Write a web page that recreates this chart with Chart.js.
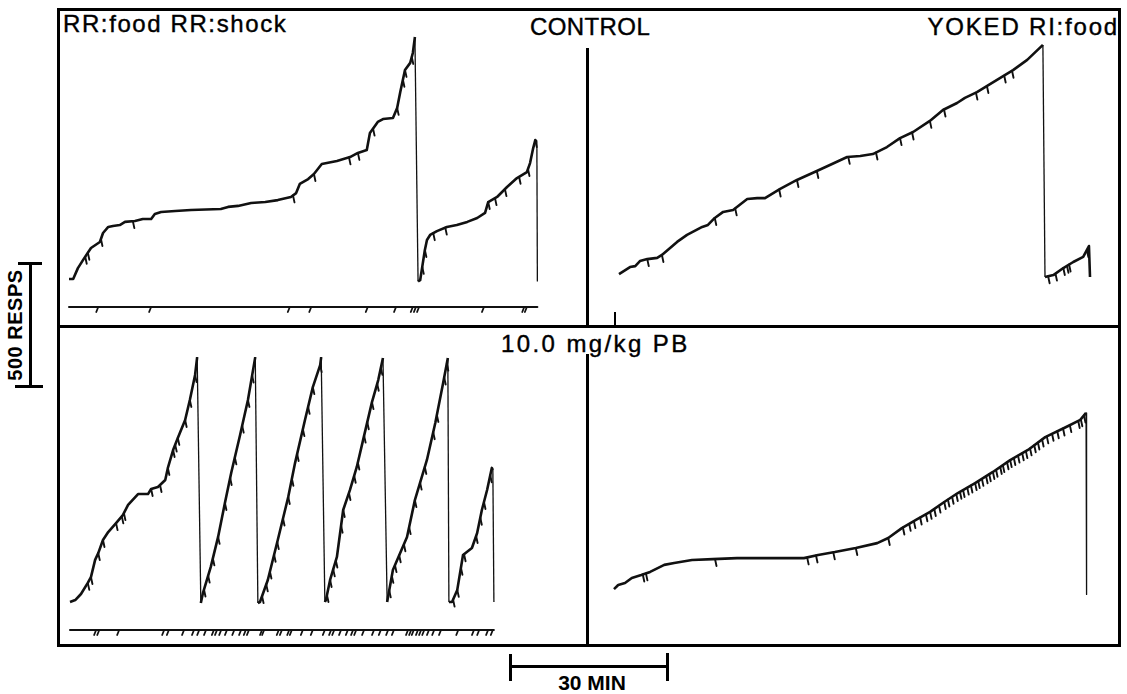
<!DOCTYPE html>
<html>
<head>
<meta charset="utf-8">
<script src="https://cdn.jsdelivr.net/npm/chart.js@4.4.1/dist/chart.umd.min.js"></script>
<style>
  body { margin: 0; background: #fff; }
  #fig { position: relative; width: 1127px; height: 694px; overflow: hidden; background: #fff;
         font-family: "Liberation Sans", Arial, sans-serif; color: #000; }
  .ln { position: absolute; background: #000; }
  .lbl { position: absolute; font-size: 24px; line-height: 24px; white-space: nowrap;
         -webkit-text-stroke: 0.4px #000; }
  .bold { font-weight: bold; -webkit-text-stroke: 0; }
  canvas { position: absolute; }
</style>
</head>
<body>
<div id="fig">
  <!-- marco -->
  <div class="ln" style="left:57px;top:8px;width:1064px;height:3px"></div>
  <div class="ln" style="left:57px;top:644px;width:1064px;height:3px"></div>
  <div class="ln" style="left:57px;top:8px;width:3px;height:639px"></div>
  <div class="ln" style="left:1118px;top:8px;width:3px;height:639px"></div>
  <div class="ln" style="left:57px;top:325px;width:1064px;height:3px"></div>
  <div class="ln" style="left:586px;top:48px;width:3px;height:278px"></div>
  <div class="ln" style="left:586px;top:354px;width:3px;height:292px"></div>
  <div class="ln" style="left:614px;top:312px;width:1.5px;height:14px"></div>

  <!-- barra 500 respuestas -->
  <div class="ln" style="left:29px;top:263px;width:3px;height:124px"></div>
  <div class="ln" style="left:18px;top:262px;width:24px;height:2.5px"></div>
  <div class="ln" style="left:15px;top:385px;width:28px;height:2.5px"></div>
  <div class="lbl bold" style="left:-42px;top:315px;width:114px;height:20px;font-size:20px;line-height:20px;text-align:center;letter-spacing:0.5px;transform:rotate(-90deg)">500 RESPS</div>

  <!-- barra 30 minutos -->
  <div class="ln" style="left:510px;top:665px;width:157px;height:3px"></div>
  <div class="ln" style="left:509px;top:654px;width:3px;height:27px"></div>
  <div class="ln" style="left:666px;top:653px;width:3px;height:28px"></div>
  <div class="lbl bold" style="left:492px;top:672px;width:200px;text-align:center;font-size:21px;line-height:21px">30 MIN</div>

  <!-- rótulos -->
  <div class="lbl" style="left:63px;top:12px;letter-spacing:1.6px">RR:food RR:shock</div>
  <div class="lbl" style="left:530px;top:15px;letter-spacing:0.4px">CONTROL</div>
  <div class="lbl" style="right:8px;top:15px;letter-spacing:1.8px">YOKED RI:food</div>
  <div class="lbl" style="left:501px;top:332px;letter-spacing:2.4px">10.0 mg/kg PB</div>

  <canvas id="rr-control" width="530" height="318" style="left:58px;top:10px"></canvas>
  <canvas id="yoked-control" width="530" height="318" style="left:588px;top:10px"></canvas>
  <canvas id="rr-drug" width="530" height="318" style="left:58px;top:328px"></canvas>
  <canvas id="yoked-drug" width="530" height="318" style="left:588px;top:328px"></canvas>
</div>

<script>
// Registros acumulados: minutos desde el inicio y respuestas acumuladas (la pluma se reinicia)

// Control, RR:food RR:shock
const rrControlTime = [0, 0.8, 1.7, 2.7, 4.2, 5.9, 6.5, 7.5, 8.4, 9.7, 10.7, 12.6, 14.1, 15.7, 16.4,
  17.6, 20.3, 23.3, 29.0, 30.4, 32.3, 34.8, 37.5, 39.9, 42.4, 43.4, 44.1, 45.7, 46.8, 48.3,
  51.2, 53.7, 55.2, 56.9, 57.5, 59.0, 60.0, 61.9, 62.7, 63.3, 64.2, 65.2, 65.7, 66.1, 66.7,
  67.1, 67.5, 68.0, 68.4, 69.0, 70.3, 72.2, 74.1, 76.1, 78.0, 79.5, 80.1, 81.8, 83.7, 85.6,
  87.5, 88.1, 88.7, 89.1, 89.4, 89.5];
const rrControlResp = [0, 0, 45, 79, 128, 153, 190, 215, 219, 223, 236, 240, 248, 248, 269,
  277, 281, 285, 289, 298, 302, 314, 318, 326, 339, 355, 393, 413, 434, 475,
  488, 504, 521, 533, 603, 649, 661, 665, 707, 773, 864, 893, 934, 1000, -10,
  -5, 50, 120, 161, 182, 198, 215, 223, 236, 252, 273, 318, 339, 380, 417,
  442, 479, 541, 574, 566, -10];
const rrControlPips = [3.1, 3.6, 6.1, 12.2, 42.8, 46.8, 53.5, 55.2, 58.1, 62.7, 63.8, 64.2, 65.5,
  67.5, 68.0, 69.6, 71.9, 80.1, 81.4, 83.3, 86.0, 87.7, 89.1];
const rrControlShocks = [5.4, 15.5, 42.0, 46.1, 56.9, 62.3, 65.5, 66.1, 66.7, 79.1, 86.8, 87.3];

// Control, YOKED RI:food
const yokedControlTime = [0, 2.1, 3.1, 4.0, 5.4, 7.3, 8.2, 11.1, 13.0, 15.9, 17.0, 18.3, 19.9, 21.8,
  24.5, 26.4, 27.9, 30.8, 34.0, 37.8, 40.3, 43.6, 46.1, 48.5, 51.2, 53.7, 56.2, 59.4, 61.9,
  64.6, 66.1, 68.4, 70.9, 73.8, 75.3, 78.0, 81.0, 81.4, 83.0, 84.9, 86.8, 88.7, 89.8, 90.0];
const yokedControlResp = [12, 41, 45, 66, 74, 79, 91, 145, 174, 207, 215, 244, 269, 277,
  322, 326, 326, 364, 401, 438, 463, 496, 500, 508, 537, 574, 599, 645, 690,
  719, 740, 764, 797, 835, 855, 897, 959, 0, 8, 37, 62, 83, 128, 0];
const yokedControlPips = [5.4, 8.2, 18.3, 22.2, 30.6, 34.0, 37.8, 43.8, 49.1, 53.7, 56.0, 59.4,
  62.1, 68.2, 70.3, 73.6, 75.1, 82.0, 83.4, 84.9, 85.6, 86.0, 89.4];

// 10.0 mg/kg PB, RR:food RR:shock
const rrDrugTime = [0, 1.0, 2.1, 3.4, 4.0, 4.8, 5.4, 6.3, 7.3, 8.8, 10.1, 11.1, 13.0, 14.9, 15.5,
  16.8, 18.2, 18.7, 19.7, 20.6, 22.0, 22.9, 23.9, 24.3, 25.0, 25.4, 26.9, 28.3, 29.6, 30.8,
  32.5, 34.0, 35.4, 35.9, 36.3, 37.8, 39.7, 41.7, 43.0, 44.9, 46.4, 47.8, 48.0, 48.7, 48.9,
  49.7, 51.0, 52.2, 53.5, 54.8, 56.0, 57.7, 58.9, 59.8, 60.6, 61.7, 64.4, 65.9, 68.2, 69.8,
  71.3, 72.2, 72.4, 73.0, 74.0, 75.1, 76.8, 77.8, 78.7, 79.7, 80.6, 80.8, 81.0];
const rrDrugResp = [0, 8, 33, 79, 103, 174, 202, 256, 289, 326, 359, 401, 446, 446, 467,
  475, 504, 554, 628, 678, 752, 835, 938, 1012, -4, 37, 145, 269, 409, 533,
  690, 835, 1012, -4, 0, 91, 256, 434, 574, 752, 888, 979, 1012, 0, 8,
  91, 186, 380, 463, 558, 669, 826, 917, 1008, 0, 132, 269, 421, 587, 740,
  905, 1008, 0, 0, 50, 194, 223, 285, 380, 463, 554, 545, 0];
const rrDrugPips = [3.4, 4.0, 5.4, 6.3, 8.8, 9.9, 10.3, 15.5, 17.2, 18.7, 19.7, 20.1, 20.6, 22.0, 22.9, 23.9,
  25.6, 26.4, 27.3, 28.3, 29.6, 30.6, 31.5, 32.9, 34.0, 34.8,
  36.7, 37.5, 38.2, 39.0, 39.6, 40.7, 41.7, 42.4, 43.4, 44.5, 45.5, 46.4, 47.8,
  49.1, 49.7, 50.3, 50.8, 51.8, 52.2, 53.3, 54.3, 55.0, 56.2, 56.8, 57.7, 58.7, 59.4,
  61.0, 61.5, 62.1, 62.9, 63.8, 64.8, 65.9, 66.9, 67.8, 69.4, 70.1, 71.5, 72.0,
  73.2, 74.0, 74.7, 75.3, 77.6, 78.4, 79.1, 80.3];
const rrDrugShocks = [4.8, 5.4, 9.2, 17.8, 18.7, 21.6, 23.5, 24.5, 25.8, 27.3, 27.9, 28.7, 29.8, 31.2,
  32.5, 33.4, 34.0, 36.5, 36.9, 39.7, 40.3, 41.7, 42.2, 44.3, 46.2, 48.5, 49.7, 50.3, 51.6,
  52.9, 53.9, 54.5, 56.0, 57.9, 59.2, 60.6, 61.7, 64.4, 65.0, 65.5, 66.3, 66.9, 67.5, 68.4,
  69.4, 70.7, 74.0, 77.0, 78.0, 79.7, 80.6];

// 10.0 mg/kg PB, YOKED RI:food
const yokedDrugTime = [0, 0.8, 2.1, 3.4, 5.2, 6.9, 9.6, 11.5, 14.9, 18.9, 23.5, 36.3, 39.0, 42.2,
  46.2, 50.3, 52.4, 55.0, 57.7, 60.4, 63.1, 65.7, 69.0, 72.4, 75.7, 79.1, 82.4, 86.4, 89.1,
  90.2, 90.3];
const yokedDrugResp = [12, 29, 37, 58, 70, 83, 112, 120, 132, 136, 140, 140, 153, 165,
  182, 202, 223, 264, 298, 331, 372, 409, 450, 496, 545, 587, 640, 682, 711,
  740, -10];
const yokedDrugPips = [5.5, 6.1, 19.3, 36.9, 38.6, 41.9, 46.2, 52.4, 55.2, 56.4, 57.3, 58.5, 59.6,
  60.4, 61.2, 62.1, 63.1, 63.8, 64.6, 65.4, 66.1, 66.7, 67.5, 68.2, 69.0, 69.6, 70.3, 71.1,
  71.7, 72.4, 73.0, 73.8, 74.3, 75.1, 75.7, 76.4, 77.2, 78.0, 78.7, 79.5, 80.3, 81.0, 81.8,
  82.7, 83.7, 84.7, 85.8, 87.1, 88.7, 89.2, 89.8];

// Escala del registrador: 30 min = 157 px, 500 respuestas = 121 px
const PX_PER_MIN = 157 / 30;
const PX_PER_RESP = 121 / 500;
const EVENT_OFFSET = 28; // pluma de eventos, px por debajo de la línea base

// ¿El tramo es un reinicio de la pluma?
function isReset(a, b) {
    return b.y < a.y - 200;
}

// Respuestas acumuladas en el instante t (sobre el tramo ascendente)
function respAt(points, t) {
    for (let i = 1; i < points.length; i++) {
        const a = points[i - 1];
        const b = points[i];
        if (isReset(a, b)) continue;
        if (t >= a.x && t <= b.x) {
            const span = b.x - a.x || 1;
            return a.y + (b.y - a.y) * (t - a.x) / span;
        }
    }
    return null;
}

// Plugin: marcas de refuerzo (pips) y pluma de eventos
const recorderPlugin = {
    id: 'recorder',
    afterDatasetsDraw(chart, args, opts) {
        const { ctx } = chart;
        const xs = chart.scales.x;
        const ys = chart.scales.y;
        const points = chart.data.datasets[0].data;

        ctx.save();
        ctx.strokeStyle = '#111';
        ctx.lineCap = 'round';

        // pips
        ctx.lineWidth = 1.9;
        (opts.pips || []).forEach(t => {
            const r = respAt(points, t);
            if (r === null) return;
            const px = xs.getPixelForValue(t);
            const py = ys.getPixelForValue(r);
            ctx.beginPath();
            ctx.moveTo(px, py);
            ctx.lineTo(px + 1.5, py + 7);
            ctx.stroke();
        });

        // pluma de eventos
        if (opts.events) {
            const ly = ys.getPixelForValue(0) + EVENT_OFFSET;
            const x0 = xs.getPixelForValue(points[0].x);
            const x1 = xs.getPixelForValue(points[points.length - 1].x);
            ctx.lineWidth = 2;
            ctx.beginPath();
            ctx.moveTo(x0, ly);
            ctx.lineTo(x1, ly);
            ctx.stroke();

            ctx.lineWidth = 1.8;
            opts.events.forEach(t => {
                const px = xs.getPixelForValue(t);
                ctx.beginPath();
                ctx.moveTo(px + 1, ly);
                ctx.lineTo(px - 1, ly + 5);
                ctx.stroke();
            });
        }
        ctx.restore();
    }
};

// Crear un panel; origin = punto de la página donde t = 0 y respuestas = 0
function makePanel(id, times, resps, pips, events, panel) {
    const data = times.map((t, i) => ({ x: t, y: resps[i] }));
    const xMin = (panel.left - panel.originX) / PX_PER_MIN;
    const xMax = (panel.left + panel.width - panel.originX) / PX_PER_MIN;
    const yMax = (panel.originY - panel.top) / PX_PER_RESP;
    const yMin = -(panel.top + panel.height - panel.originY) / PX_PER_RESP;

    return new Chart(document.getElementById(id), {
        type: 'line',
        data: {
            datasets: [{
                data: data,
                borderColor: '#111',
                borderWidth: 2.6,
                borderJoinStyle: 'round',
                pointRadius: 0,
                tension: 0,
                fill: false,
                segment: {
                    borderWidth: ctx => isReset(ctx.p0.parsed, ctx.p1.parsed) ? 1.3 : 2.6
                }
            }]
        },
        options: {
            responsive: false,
            animation: false,
            devicePixelRatio: 1,
            events: [],
            layout: { padding: 0 },
            scales: {
                x: { type: 'linear', display: false, min: xMin, max: xMax },
                y: { type: 'linear', display: false, min: yMin, max: yMax }
            },
            plugins: {
                legend: { display: false },
                tooltip: { enabled: false },
                recorder: { pips: pips, events: events }
            }
        },
        plugins: [recorderPlugin]
    });
}

document.addEventListener('DOMContentLoaded', () => {
    makePanel('rr-control', rrControlTime, rrControlResp, rrControlPips, rrControlShocks,
        { left: 58, top: 10, width: 530, height: 318, originX: 69, originY: 279 });
    makePanel('yoked-control', yokedControlTime, yokedControlResp, yokedControlPips, null,
        { left: 588, top: 10, width: 530, height: 318, originX: 619, originY: 277 });
    makePanel('rr-drug', rrDrugTime, rrDrugResp, rrDrugPips, rrDrugShocks,
        { left: 58, top: 328, width: 530, height: 318, originX: 70, originY: 602 });
    makePanel('yoked-drug', yokedDrugTime, yokedDrugResp, yokedDrugPips, null,
        { left: 588, top: 328, width: 530, height: 318, originX: 614, originY: 592 });
});
</script>
</body>
</html>
